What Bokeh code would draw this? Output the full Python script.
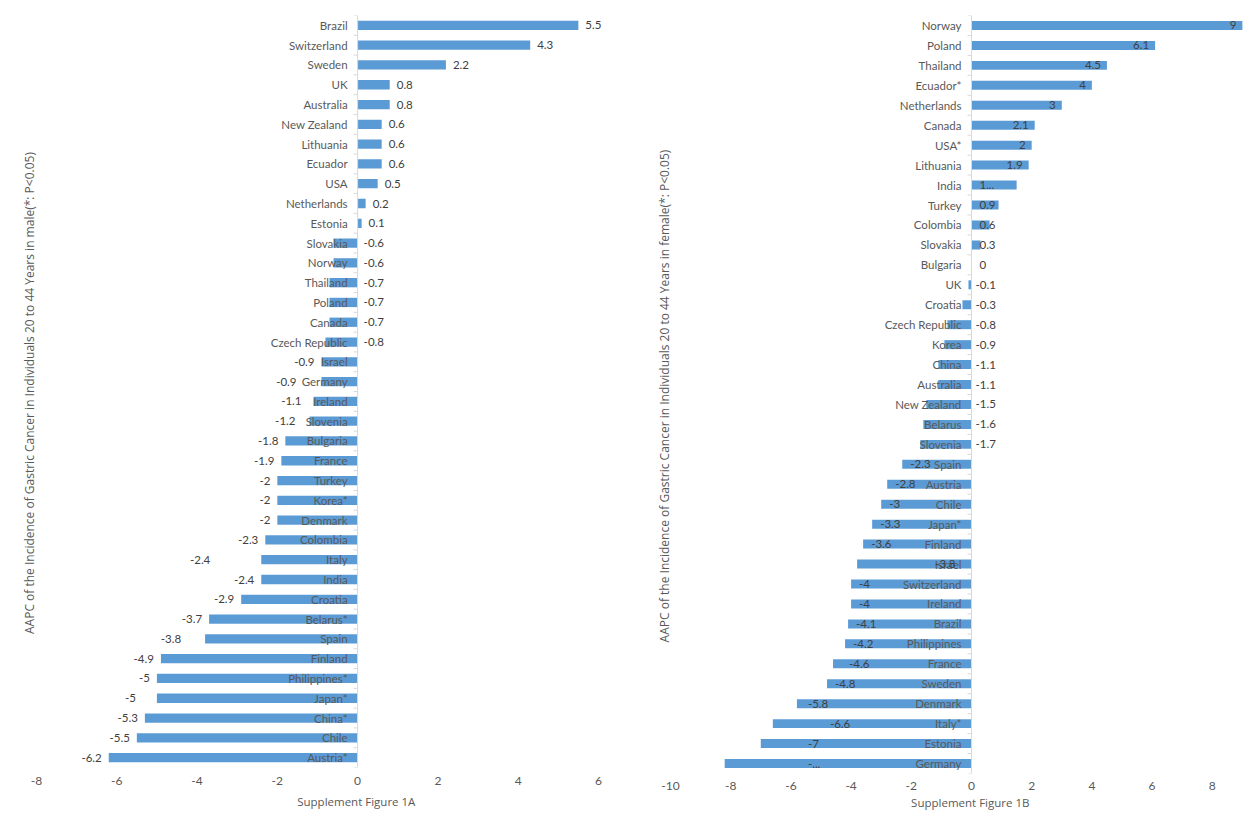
from bokeh.plotting import figure
from bokeh.layouts import row
from bokeh.models import Range1d, FixedTicker, Span, Title, ColumnDataSource
from bokeh.core.properties import value
from bokeh.embed import file_html
from bokeh.resources import INLINE

# ---------------- data ----------------
male_countries = ["Brazil", "Switzerland", "Sweden", "UK", "Australia", "New Zealand",
                  "Lithuania", "Ecuador", "USA", "Netherlands", "Estonia", "Slovakia",
                  "Norway", "Thailand", "Poland", "Canada", "Czech Republic", "Israel",
                  "Germany", "Ireland", "Slovenia", "Bulgaria", "France", "Turkey",
                  "Korea*", "Denmark", "Colombia", "Italy", "India", "Croatia",
                  "Belarus*", "Spain", "Finland", "Philippines*", "Japan*", "China*",
                  "Chile", "Austria*"]
male_aapc = [5.5, 4.3, 2.2, 0.8, 0.8, 0.6, 0.6, 0.6, 0.5, 0.2, 0.1, -0.6,
             -0.6, -0.7, -0.7, -0.7, -0.8, -0.9, -0.9, -1.1, -1.2, -1.8, -1.9, -2,
             -2, -2, -2.3, -2.4, -2.4, -2.9, -3.7, -3.8, -4.9, -5, -5, -5.3,
             -5.5, -6.2]

female_countries = ["Norway", "Poland", "Thailand", "Ecuador*", "Netherlands", "Canada",
                    "USA*", "Lithuania", "India", "Turkey", "Colombia", "Slovakia",
                    "Bulgaria", "UK", "Croatia", "Czech Republic", "Korea", "China",
                    "Australia", "New Zealand", "Belarus", "Slovenia", "Spain", "Austria",
                    "Chile", "Japan*", "Finland", "Israel", "Switzerland", "Ireland",
                    "Brazil", "Philippines", "France", "Sweden", "Denmark", "Italy*",
                    "Estonia", "Germany"]
female_aapc = [9, 6.1, 4.5, 4, 3, 2.1, 2, 1.9, 1.5, 0.9, 0.6, 0.3,
               0, -0.1, -0.3, -0.8, -0.9, -1.1, -1.1, -1.5, -1.6, -1.7, -2.3, -2.8,
               -3, -3.3, -3.6, -3.8, -4, -4, -4.1, -4.2, -4.6, -4.8, -5.8, -6.6,
               -7, -8.2]
# data labels that are shown truncated in the original
female_label_overrides = {"India": "1...", "Germany": "-..."}

male_ticks = [-8, -6, -4, -2, 0, 2, 4, 6]
female_ticks = [-10, -8, -6, -4, -2, 0, 2, 4, 6, 8]

male_title = "AAPC of the Incidence of Gastric Cancer in Individuals 20 to 44 Years in male(*:  P<0.05)"
female_title = "AAPC of the Incidence of Gastric Cancer in Individuals 20 to 44 Years in female(*:  P<0.05)"
male_xlabel = "Supplement  Figure 1A"
female_xlabel = "Supplement  Figure 1B"

# ---------------- style ----------------
BAR = "#5B9BD5"
CAT_COLOR = "#595959"
LAB_COLOR = "#404040"
NARROW = "Lato"
WIDE = "Open Sans"
LABEL_SIZE = "11.5px"


def male_label_pos(v):
    if v > 0:
        return v, 7, "left"
    if v > -0.85:
        return 0, 6, "left"
    return v, -7, "right"


def female_label_pos(v):
    if v >= 1.8:
        return v, -6, "right"
    if v >= 0:
        return 0, 8, "left"
    if v > -2:
        return 0, 4, "left"
    return max(v, -5.7), 8, "left"


male_nudge = {"Germany": -18, "Ireland": -5, "Slovenia": -7, "Italy": -44,
              "Spain": -17, "Japan*": -14}
female_nudge = {"Israel": 70, "France": 8, "Italy*": 22}


def make_panel(countries, vals, overrides, ticks, x0, x1, fw, fh, bl, br, bt, bb,
               title, xlabel, bar_h, pos_rule, nudge, title_standoff, tick_standoff,
               xlabel_standoff):
    n = len(countries)
    idx = list(range(n))
    p = figure(frame_width=fw, frame_height=fh, min_border_left=bl, min_border_right=br,
               min_border_top=bt, min_border_bottom=bb,
               x_range=Range1d(x0, x1), y_range=Range1d(n - 0.5, -0.5),
               output_backend="svg", toolbar_location=None)
    p.outline_line_color = None
    p.xgrid.visible = False
    p.ygrid.visible = False
    p.background_fill_color = "white"
    p.border_fill_color = "white"

    # bars
    src = ColumnDataSource(dict(y=idx, v=vals, name=countries))
    p.hbar(y="y", left=0, right="v", height=bar_h, source=src,
           fill_color=BAR, line_color=None)

    # zero axis and category tick marks
    p.add_layout(Span(location=0, dimension="height", line_color="#D9D9D9", line_width=1))
    px_per_unit = fw / (x1 - x0)
    tick_len = 4.0 / px_per_unit
    bounds = [i - 0.5 for i in range(n + 1)]
    p.segment(x0=[0] * len(bounds), y0=bounds, x1=[-tick_len] * len(bounds), y1=bounds,
              line_color="#D9D9D9", line_width=1)

    # category labels next to zero axis
    p.text(x=[0] * n, y=idx, text=countries, x_offset=-10, text_align="right",
           text_baseline="middle", text_font=value(NARROW), text_font_size=LABEL_SIZE,
           text_color=CAT_COLOR)

    # data labels
    groups = {"left": dict(x=[], y=[], t=[], o=[]), "right": dict(x=[], y=[], t=[], o=[])}
    for i, (c, v) in enumerate(zip(countries, vals)):
        x, off, al = pos_rule(v)
        off += nudge.get(c, 0)
        g = groups[al]
        g["x"].append(x)
        g["y"].append(i)
        g["t"].append(overrides.get(c, f"{v:g}"))
        g["o"].append(off)
    for al, g in groups.items():
        if not g["x"]:
            continue
        s = ColumnDataSource(g)
        p.text(x="x", y="y", text="t", x_offset="o", source=s, text_align=al,
               text_baseline="middle", text_font=value(NARROW),
               text_font_size=LABEL_SIZE, text_color=LAB_COLOR)

    # x axis: tick labels only (plain hyphen minus as in the original)
    p.xaxis.ticker = FixedTicker(ticks=ticks)
    p.xaxis.major_label_overrides = {t: f"{t:g}" for t in ticks}
    p.xaxis.axis_line_color = None
    p.xaxis.major_tick_line_color = None
    p.xaxis.minor_tick_line_color = None
    p.xaxis.major_tick_out = 0
    p.xaxis.major_tick_in = 0
    p.xaxis.minor_tick_out = 0
    p.xaxis.major_label_standoff = tick_standoff
    p.xaxis.major_label_text_font = NARROW
    p.xaxis.major_label_text_font_size = "12px"
    p.xaxis.major_label_text_color = CAT_COLOR

    # y axis: only the rotated title
    p.yaxis.ticker = FixedTicker(ticks=[])
    p.yaxis.axis_line_color = None
    p.yaxis.major_tick_line_color = None
    p.yaxis.minor_tick_line_color = None
    p.yaxis.major_tick_out = 0
    p.yaxis.major_tick_in = 0
    p.yaxis.minor_tick_out = 0
    p.yaxis.major_label_standoff = 0
    p.yaxis.axis_label = title
    p.yaxis.axis_label_standoff = title_standoff
    p.yaxis.axis_label_text_font = WIDE
    p.yaxis.axis_label_text_font_size = "12px"
    p.yaxis.axis_label_text_font_style = "normal"
    p.yaxis.axis_label_text_color = CAT_COLOR

    # x title centred on the zero line (estimated text width ~ 10.5 em)
    fs = 11.5
    est_w = 10.5 * fs
    zero_px = (0 - x0) * px_per_unit
    p.add_layout(Title(text=xlabel, align="left", offset=zero_px - est_w / 2,
                       standoff=xlabel_standoff, text_font=WIDE,
                       text_font_size=f"{fs}px", text_font_style="normal",
                       text_color=CAT_COLOR), "below")
    return p


p1 = make_panel(male_countries, male_aapc, {}, male_ticks, -8, 6.5,
                582, 752, 36, 30, 14, 60, male_title, male_xlabel, 0.47,
                male_label_pos, male_nudge, -1, 9, 9)
p2 = make_panel(female_countries, female_aapc, female_label_overrides, female_ticks,
                -10, 9.27, 580, 758, 22, 0, 15, 53, female_title, female_xlabel, 0.45,
                female_label_pos, female_nudge, -2, 8, 1)

layout = row(p1, p2)
open("out.html", "w").write(file_html(layout, INLINE))
